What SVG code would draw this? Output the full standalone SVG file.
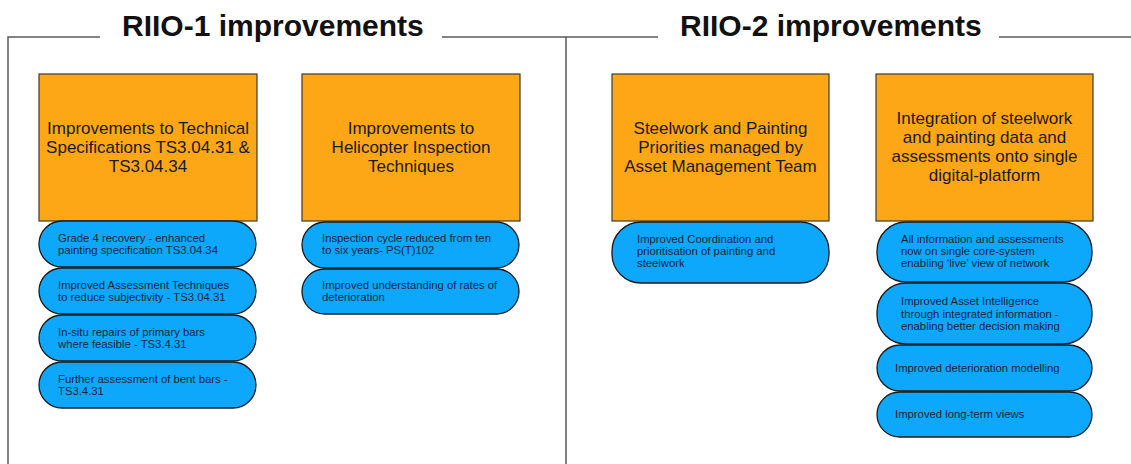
<svg xmlns="http://www.w3.org/2000/svg" width="1131" height="464" viewBox="0 0 1131 464">
<style>
.frame{fill:none;stroke:#595959;stroke-width:1.5}
.title{font-family:"Liberation Sans",Arial,sans-serif;font-weight:bold;font-size:30px;fill:#111}
.box{fill:#FDA616;stroke:#3a3a3a;stroke-width:1.2}
.boxt{font-family:"Liberation Sans",Arial,sans-serif;font-size:17px;fill:#1a1a1a;text-anchor:middle}
.pill{fill:#0DA8FC;stroke:#1a1a1a;stroke-width:1.3}
.pt{font-family:"Liberation Sans",Arial,sans-serif;font-size:11.3px;fill:#10233a}
</style>
<rect width="1131" height="464" fill="#ffffff"/>
<g id="frame">
<path class="frame" d="M8,464 V37 H100 M442,37 H566 V464 M566,37 H658 M999,37 H1131"/>
<text class="title" x="122" y="36">RIIO-1 improvements</text>
<text class="title" x="680" y="36">RIIO-2 improvements</text>
</g>
<g id="connectors"/>
<g id="n-tech">
<rect class="box" x="39" y="74" width="218" height="147"/>
<text class="boxt" x="148" y="134">Improvements to Technical</text>
<text class="boxt" x="148" y="153">Specifications TS3.04.31 &amp;</text>
<text class="boxt" x="148" y="172">TS3.04.34</text>
</g>
<g id="n-tech-1">
<rect class="pill" x="39" y="221" width="217" height="46" rx="23"/>
<text class="pt" x="58" y="242">Grade 4 recovery - enhanced</text>
<text class="pt" x="58" y="254">painting specification TS3.04.34</text>
</g>
<g id="n-tech-2">
<rect class="pill" x="39" y="268" width="217" height="46" rx="23"/>
<text class="pt" x="58" y="289">Improved Assessment Techniques</text>
<text class="pt" x="58" y="301">to reduce subjectivity - TS3.04.31</text>
</g>
<g id="n-tech-3">
<rect class="pill" x="39" y="315" width="217" height="46" rx="23"/>
<text class="pt" x="58" y="336">In-situ repairs of primary bars</text>
<text class="pt" x="58" y="348">where feasible - TS3.4.31</text>
</g>
<g id="n-tech-4">
<rect class="pill" x="39" y="362" width="217" height="46" rx="23"/>
<text class="pt" x="58" y="383">Further assessment of bent bars -</text>
<text class="pt" x="58" y="395">TS3.4.31</text>
</g>
<g id="n-heli">
<rect class="box" x="302" y="74" width="218" height="147"/>
<text class="boxt" x="411" y="134">Improvements to</text>
<text class="boxt" x="411" y="153">Helicopter Inspection</text>
<text class="boxt" x="411" y="172">Techniques</text>
</g>
<g id="n-heli-1">
<rect class="pill" x="302" y="222" width="217" height="46" rx="23"/>
<text class="pt" x="322" y="242">Inspection cycle reduced from ten</text>
<text class="pt" x="322" y="254">to six years- PS(T)102</text>
</g>
<g id="n-heli-2">
<rect class="pill" x="302" y="269" width="217" height="45" rx="22.5"/>
<text class="pt" x="322" y="289">Improved understanding of rates of</text>
<text class="pt" x="322" y="301">deterioration</text>
</g>
<g id="n-steel">
<rect class="box" x="612" y="74" width="217" height="147"/>
<text class="boxt" x="720.5" y="134">Steelwork and Painting</text>
<text class="boxt" x="720.5" y="153">Priorities managed by</text>
<text class="boxt" x="720.5" y="172">Asset Management Team</text>
</g>
<g id="n-steel-1">
<rect class="pill" x="612" y="222" width="217" height="61" rx="29"/>
<text class="pt" x="637" y="243">Improved Coordination and</text>
<text class="pt" x="637" y="255">prioritisation of painting and</text>
<text class="pt" x="637" y="267">steelwork</text>
</g>
<g id="n-digital">
<rect class="box" x="876" y="74" width="217" height="147"/>
<text class="boxt" x="984.5" y="124">Integration of steelwork</text>
<text class="boxt" x="984.5" y="143">and painting data and</text>
<text class="boxt" x="984.5" y="162">assessments onto single</text>
<text class="boxt" x="984.5" y="181">digital-platform</text>
</g>
<g id="n-digital-1">
<rect class="pill" x="877" y="222" width="215" height="60" rx="29"/>
<text class="pt" x="901" y="243">All information and assessments</text>
<text class="pt" x="901" y="255">now on single core-system</text>
<text class="pt" x="901" y="267">enabling ‘live’ view of network</text>
</g>
<g id="n-digital-2">
<rect class="pill" x="877" y="283" width="215" height="61" rx="29"/>
<text class="pt" x="901" y="305">Improved Asset Intelligence</text>
<text class="pt" x="901" y="317.5">through integrated information -</text>
<text class="pt" x="901" y="330">enabling better decision making</text>
</g>
<g id="n-digital-3">
<rect class="pill" x="877" y="345" width="215" height="46" rx="23"/>
<text class="pt" x="895" y="372">Improved deterioration modelling</text>
</g>
<g id="n-digital-4">
<rect class="pill" x="877" y="392" width="215" height="45" rx="22.5"/>
<text class="pt" x="895" y="418">Improved long-term views</text>
</g>
</svg>
